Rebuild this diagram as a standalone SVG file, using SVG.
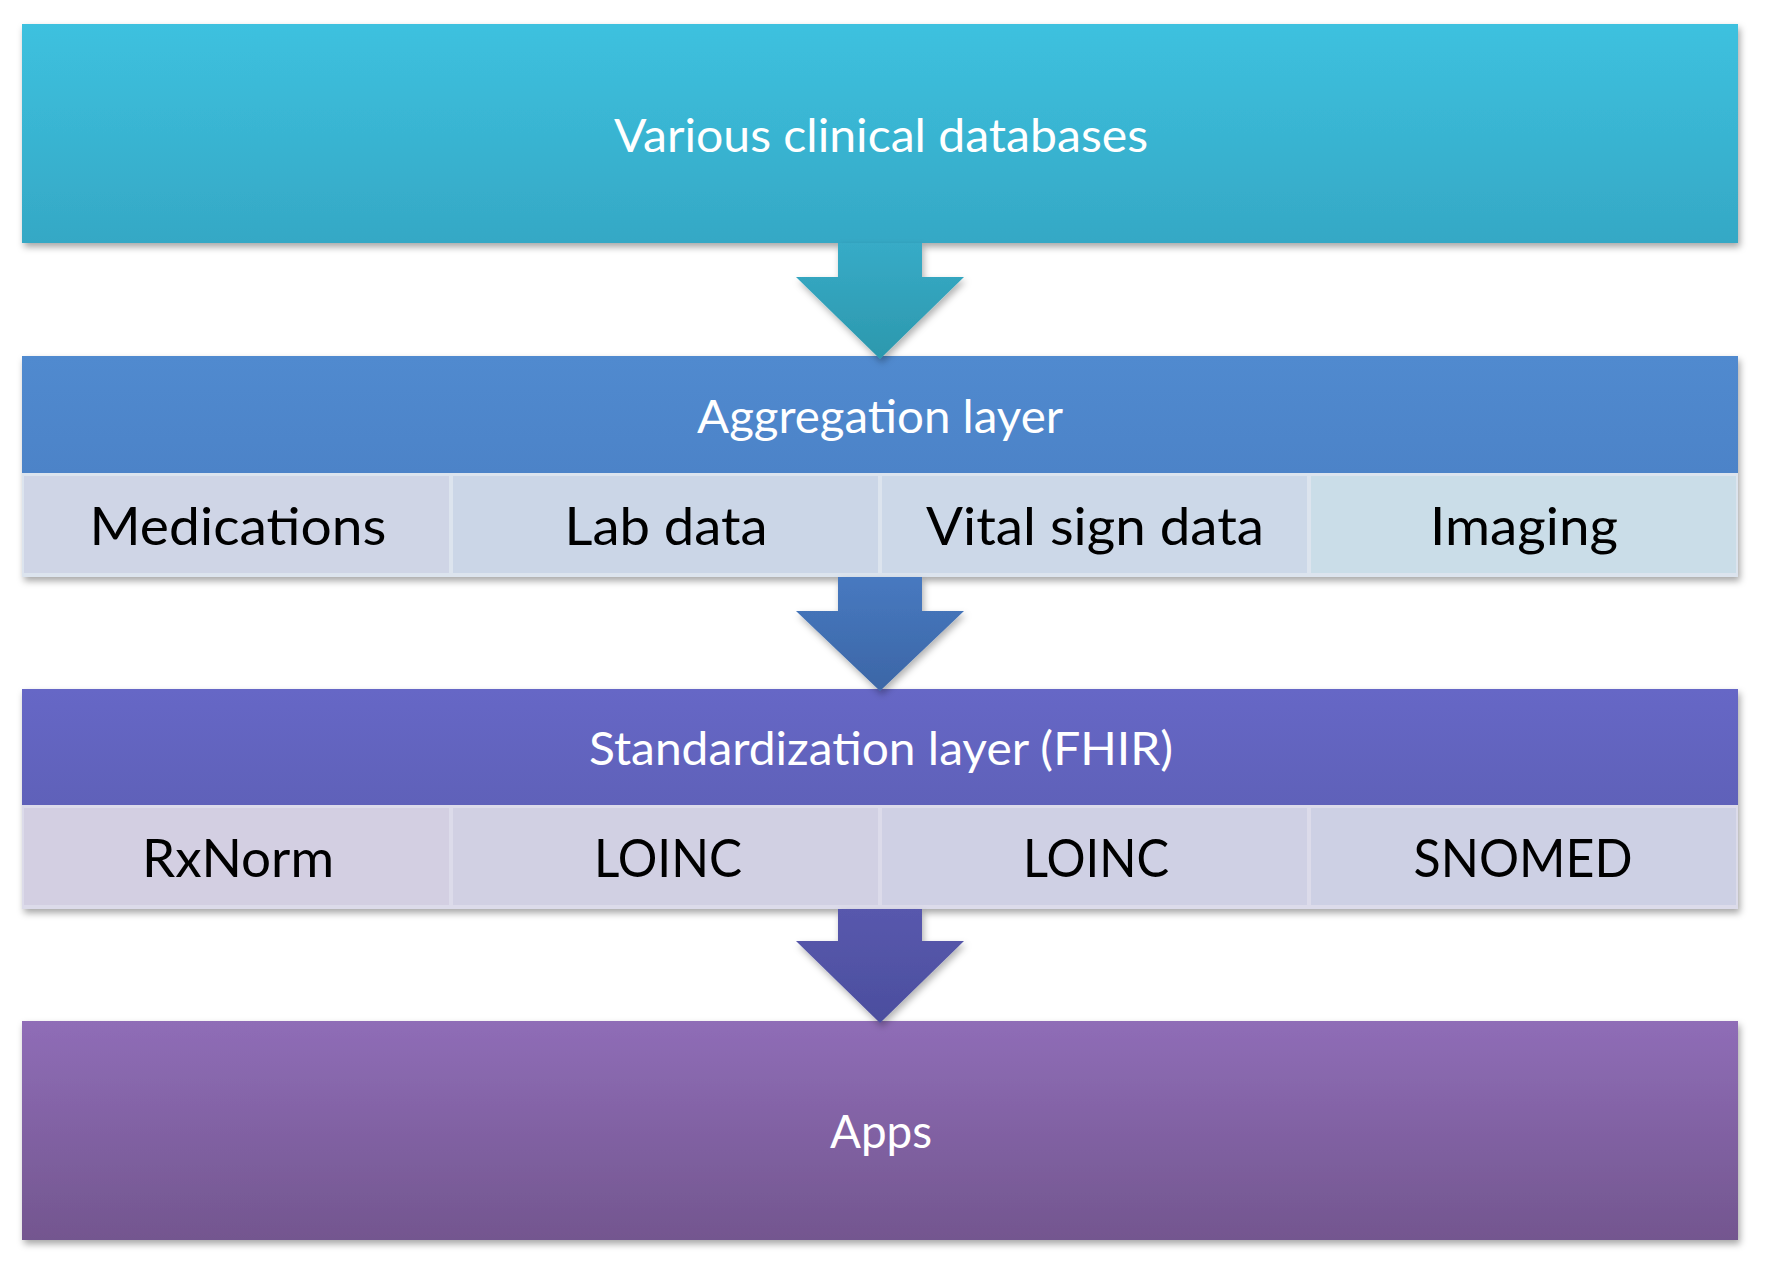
<svg xmlns="http://www.w3.org/2000/svg" width="1768" height="1274" viewBox="0 0 1768 1274">
<defs>
  <linearGradient id="gTop" x1="0" y1="0" x2="0" y2="1"><stop offset="0" stop-color="#3DC1DF"/><stop offset="1" stop-color="#35A8C5"/></linearGradient>
  <linearGradient id="gAgg" x1="0" y1="0" x2="0" y2="1"><stop offset="0" stop-color="#508ACF"/><stop offset="1" stop-color="#4C83C8"/></linearGradient>
  <linearGradient id="gStd" x1="0" y1="0" x2="0" y2="1"><stop offset="0" stop-color="#6667C6"/><stop offset="1" stop-color="#5F61B9"/></linearGradient>
  <linearGradient id="gApps" x1="0" y1="0" x2="0" y2="1"><stop offset="0" stop-color="#8F6DB7"/><stop offset="1" stop-color="#73568F"/></linearGradient>
  <linearGradient id="gA1" x1="0" y1="0" x2="0" y2="1"><stop offset="0" stop-color="#37ABC7"/><stop offset="1" stop-color="#2C98AD"/></linearGradient>
  <linearGradient id="gA2" x1="0" y1="0" x2="0" y2="1"><stop offset="0" stop-color="#4779C0"/><stop offset="1" stop-color="#3C66A6"/></linearGradient>
  <linearGradient id="gA3" x1="0" y1="0" x2="0" y2="1"><stop offset="0" stop-color="#5858AD"/><stop offset="1" stop-color="#4B4E9E"/></linearGradient>
  <filter id="sh" x="-5%" y="-20%" width="110%" height="140%">
    <feDropShadow dx="2" dy="4" stdDeviation="3.5" flood-color="#000" flood-opacity="0.35"/>
  </filter>
  <filter id="shA" x="-20%" y="-20%" width="140%" height="140%">
    <feDropShadow dx="2" dy="4" stdDeviation="3.5" flood-color="#000" flood-opacity="0.3"/>
  </filter>
</defs>
<style>
  .hdr { font-family: Lato, "Open Sans", "Liberation Sans", sans-serif; font-size: 46px; fill: #FFFFFF; text-anchor: middle; }
  .cell { font-family: Lato, "Open Sans", "Liberation Sans", sans-serif; font-size: 52px; fill: #000000; text-anchor: middle; }
</style>
<rect width="1768" height="1274" fill="#FFFFFF"/>

<g id="node-databases">
  <rect x="22" y="24" width="1716" height="219" fill="url(#gTop)" filter="url(#sh)"/>
  <text class="hdr" x="881" y="152" textLength="534" lengthAdjust="spacingAndGlyphs">Various clinical databases</text>
</g>

<g id="node-aggregation">
  <rect x="22" y="356" width="1716" height="221" fill="#DCE4EE" filter="url(#sh)"/>
  <rect x="22" y="356" width="1716" height="117" fill="url(#gAgg)"/>
  <text class="hdr" x="880" y="433" textLength="366" lengthAdjust="spacingAndGlyphs">Aggregation layer</text>
  <g id="cell-medications">
    <rect x="24" y="476" width="425" height="97" fill="#CFD5E6"/>
    <text class="cell" x="238" y="545" textLength="297" lengthAdjust="spacingAndGlyphs">Medications</text>
  </g>
  <g id="cell-lab">
    <rect x="453" y="476" width="425" height="97" fill="#CBD6E7"/>
    <text class="cell" x="666" y="545" textLength="203" lengthAdjust="spacingAndGlyphs">Lab data</text>
  </g>
  <g id="cell-vital">
    <rect x="882" y="476" width="425" height="97" fill="#CCD8E8"/>
    <text class="cell" x="1095" y="545" textLength="338" lengthAdjust="spacingAndGlyphs">Vital sign data</text>
  </g>
  <g id="cell-imaging">
    <rect x="1311" y="476" width="425" height="97" fill="#CADDE8"/>
    <text class="cell" x="1524" y="545" textLength="188" lengthAdjust="spacingAndGlyphs">Imaging</text>
  </g>
</g>

<g id="node-standardization">
  <rect x="22" y="689" width="1716" height="220" fill="#DCDBEA" filter="url(#sh)"/>
  <rect x="22" y="689" width="1716" height="116" fill="url(#gStd)"/>
  <text class="hdr" x="881" y="765" textLength="584" lengthAdjust="spacingAndGlyphs">Standardization layer (FHIR)</text>
  <g id="cell-rxnorm">
    <rect x="24" y="808" width="425" height="97" fill="#D3CFE2"/>
    <text class="cell" x="238" y="877" textLength="192" lengthAdjust="spacingAndGlyphs">RxNorm</text>
  </g>
  <g id="cell-loinc1">
    <rect x="453" y="808" width="425" height="97" fill="#D1D0E3"/>
    <text class="cell" x="668" y="877" textLength="148" lengthAdjust="spacingAndGlyphs">LOINC</text>
  </g>
  <g id="cell-loinc2">
    <rect x="882" y="808" width="425" height="97" fill="#CFD0E4"/>
    <text class="cell" x="1096" y="877" textLength="146" lengthAdjust="spacingAndGlyphs">LOINC</text>
  </g>
  <g id="cell-snomed">
    <rect x="1311" y="808" width="425" height="97" fill="#CDD0E4"/>
    <text class="cell" x="1523" y="877" textLength="219" lengthAdjust="spacingAndGlyphs">SNOMED</text>
  </g>
</g>

<g id="node-apps">
  <rect x="22" y="1021" width="1716" height="219" fill="url(#gApps)" filter="url(#sh)"/>
  <text class="hdr" x="881" y="1148" textLength="102" lengthAdjust="spacingAndGlyphs">Apps</text>
</g>

<g id="connectors">
  <path d="M838,243 H922 V277 H964 L880,359 L796,277 H838 Z" fill="url(#gA1)" filter="url(#shA)"/>
  <path d="M838,577 H922 V611 H964 L880,691 L796,611 H838 Z" fill="url(#gA2)" filter="url(#shA)"/>
  <path d="M838,909 H922 V941 H964 L880,1023 L796,941 H838 Z" fill="url(#gA3)" filter="url(#shA)"/>
</g>
</svg>
